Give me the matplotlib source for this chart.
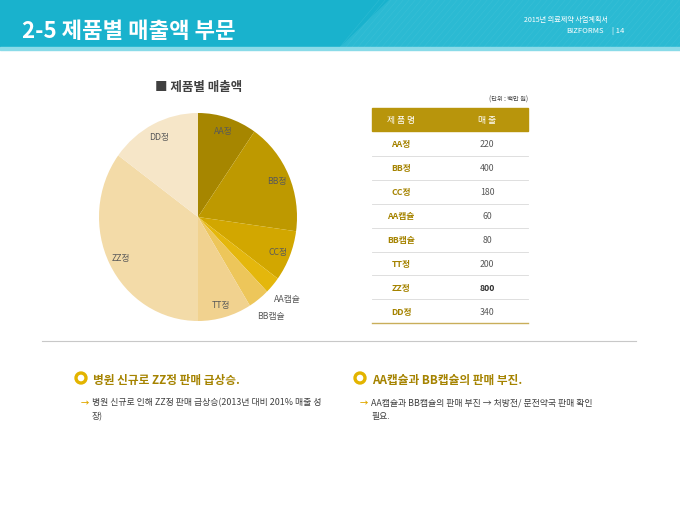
import numpy as np
import matplotlib
matplotlib.use("Agg")
import matplotlib.pyplot as plt
from matplotlib.patches import Rectangle, Circle, Polygon

plt.rcParams['font.family'] = ['Noto Sans CJK KR', 'DejaVu Sans']

products = ["AA정", "BB정", "CC정", "AA캡슐", "BB캡슐", "TT정", "ZZ정", "DD정"]
sales = [220, 400, 180, 60, 80, 200, 800, 340]
colors = ["#A68600", "#BE9900", "#D2A700", "#E4B70C", "#EDC65A", "#F1D28F", "#F3DBA8", "#F6E6C8"]

title = "2-5 제품별 매출액 부문"
chart_title = "■ 제품별 매출액"
unit_text = "(단위 : 백만 원)"
header_cols = ["제 품 명", "매 출"]
notes = [
    ("병원 신규로 ZZ정 판매 급상승.",
     ["병원 신규로 인해 ZZ정 판매 급상승(2013년 대비 201% 매출 성", "장)"]),
    ("AA캡슐과 BB캡슐의 판매 부진.",
     ["AA캡슐과 BB캡슐의 판매 부진 → 처방전/ 문전약국 판매 확인", "필요."]),
]

W, H = 680, 510
fig = plt.figure(figsize=(W / 100, H / 100), dpi=100)
bg = fig.add_axes([0, 0, 1, 1])
bg.set_xlim(0, W)
bg.set_ylim(H, 0)
bg.axis('off')

# header banner
bg.add_patch(Rectangle((0, 0), W, 48, color="#19B2CD", zorder=1))
bg.add_patch(Polygon([[390, 0], [W, 0], [W, 48], [340, 48]], closed=True, color="#2BBAD3", zorder=1.1))
for k in range(0, 60):
    x0 = 340 + k * 6
    bg.plot([x0, x0 + 40], [48, 0], color="#4CC6DB", lw=0.4, alpha=0.4, zorder=1.2)
bg.add_patch(Rectangle((0, 48), W, 3, color="#8ADBE8", zorder=1.3))
bg.text(22, 31, title, color="white", fontsize=16, fontweight='bold', va='center', ha='left', zorder=3)
bg.text(608, 20, "2015년 의료제약 사업계획서", color="white", fontsize=5.1, ha='right', va='center', zorder=3)
bg.text(604, 31, "BIZFORMS", color="white", fontsize=5.5, ha='right', va='center', zorder=3)
bg.text(612, 31, "| 14", color="white", fontsize=5.5, ha='left', va='center', zorder=3)

# pie chart
cx, cy, rx, ry = 198, 218, 99, 104
pax = fig.add_axes([(cx - rx) / W, 1 - (cy + ry) / H, 2 * rx / W, 2 * ry / H])
wedges, _ = pax.pie(sales, colors=colors, startangle=90, counterclock=False,
                    wedgeprops=dict(linewidth=0))
pax.set_xlim(-1, 1)
pax.set_ylim(-1, 1)
pax.set_aspect('auto')
pax.axis('off')
for w, lab, v in zip(wedges, products, sales):
    ang = np.deg2rad((w.theta1 + w.theta2) / 2)
    frac = v / sum(sales)
    r = 0.87 if frac > 0.05 else 1.2
    pax.text(r * np.cos(ang), r * np.sin(ang), lab, ha='center', va='center',
             fontsize=6.3, color="#595959", clip_on=False)
bg.text(199, 87, chart_title, ha='center', va='center', fontsize=9, color="#404040", fontweight='bold')

# table
tx0, tx1 = 372, 528
bg.text(tx1, 100, unit_text, ha='right', va='center', fontsize=4.5, color="#404040")
bg.add_patch(Rectangle((tx0, 109), tx1 - tx0, 23, color="#B8950C", zorder=2))
bg.text(401, 121, header_cols[0], color="white", fontsize=6.3, ha='center', va='center', zorder=3)
bg.text(487, 121, header_cols[1], color="white", fontsize=6.3, ha='center', va='center', zorder=3)
row_h = 23.9
y = 133
for i, (p, v) in enumerate(zip(products, sales)):
    yc = y + row_h / 2
    bold = (v == max(sales))
    bg.text(401, yc, p, color="#A58300", fontsize=6.3, ha='center', va='center', fontweight='bold')
    bg.text(487, yc, str(v), color="#303030" if bold else "#595959", fontsize=6.3, ha='center',
            va='center', fontweight='bold' if bold else 'normal')
    y += row_h
    if i < len(products) - 1:
        bg.plot([tx0, tx1], [y, y], color="#D9D9D9", lw=0.6)
bg.plot([tx0, tx1], [y, y], color="#C9AE5A", lw=1.0)

# divider
bg.plot([42, 636], [342, 342], color="#C8C8C8", lw=0.8)

# notes
for (head, lines), x in zip(notes, [81, 360]):
    bg.add_patch(Circle((x, 379), 5, facecolor="white", edgecolor="#E3B400", lw=2.4, zorder=3))
    bg.text(x + 12, 380, head, color="#A58300", fontsize=8.4, fontweight='bold', ha='left', va='center')
    bg.text(x, 403, "→", color="#E0A800", fontsize=6, ha='left', va='center', fontweight='bold')
    bg.text(x + 11, 403, lines[0], color="#404040", fontsize=6.4, ha='left', va='center')
    bg.text(x + 11, 417, lines[1], color="#404040", fontsize=6.4, ha='left', va='center')

fig.savefig("out.png", dpi=100)
